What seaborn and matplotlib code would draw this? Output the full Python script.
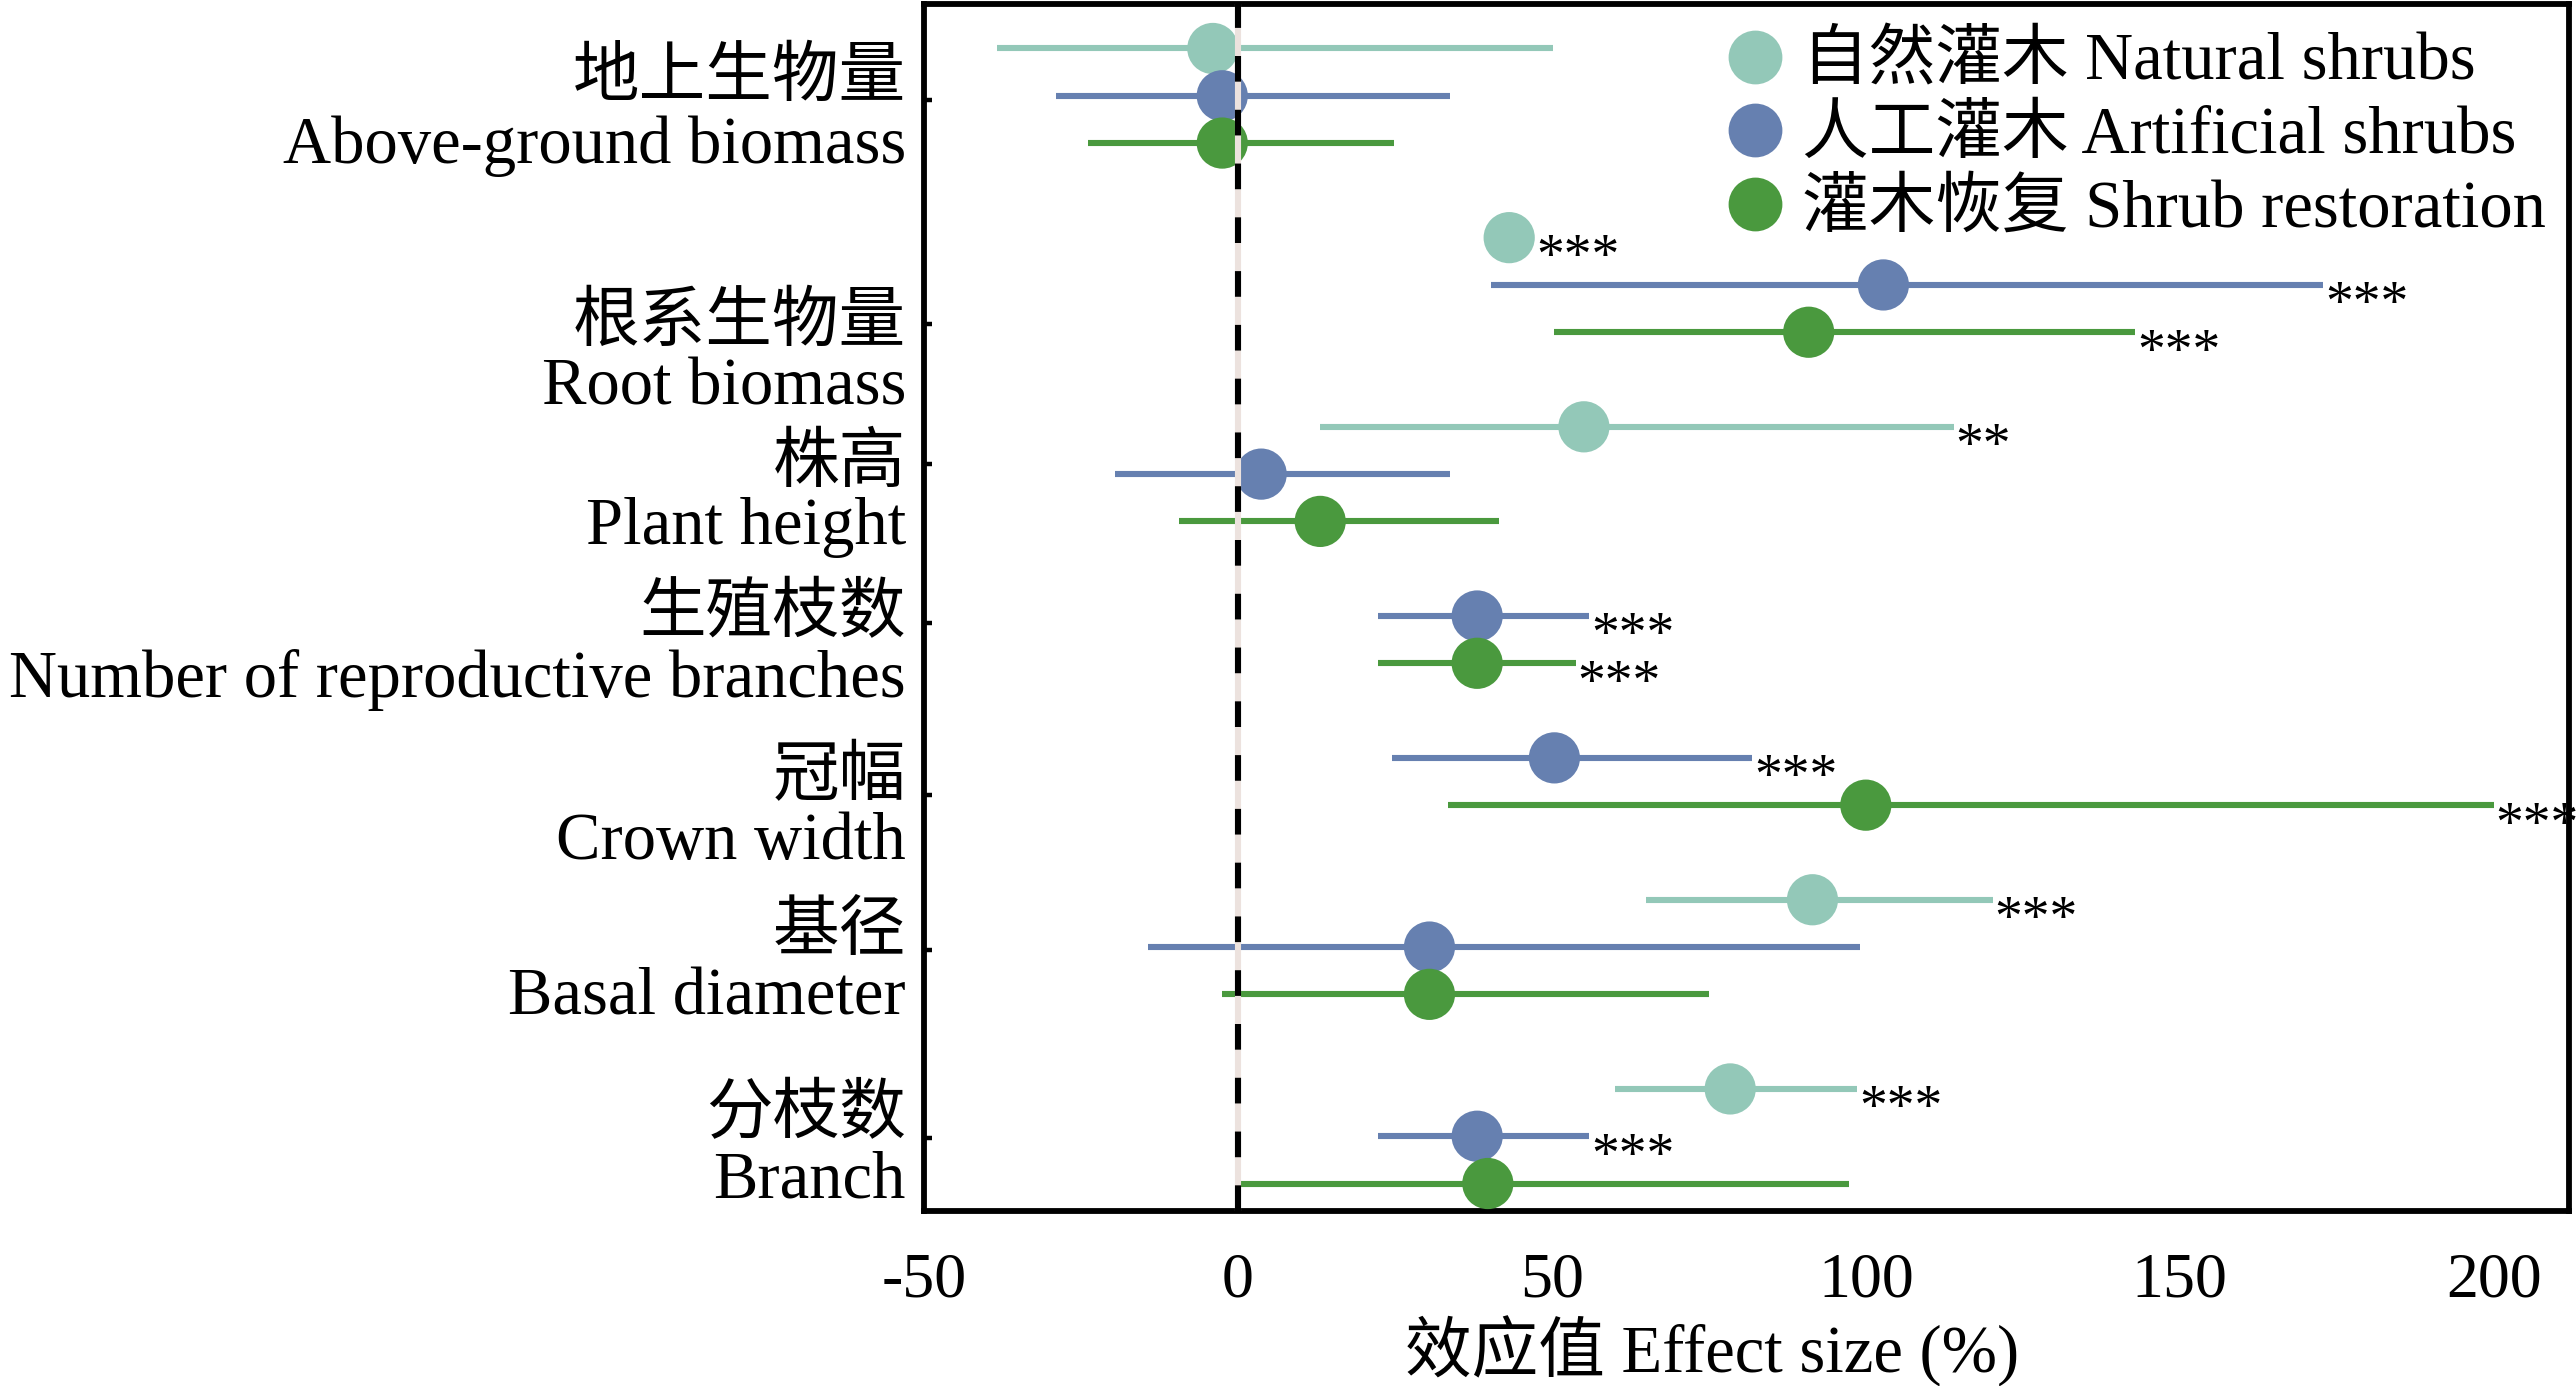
import numpy as np
import pandas as pd
import seaborn as sns
import matplotlib.pyplot as plt

# categories (Chinese / English)
categories_zh = ['地上生物量', '根系生物量', '株高', '生殖枝数', '冠幅', '基径', '分枝数']
categories_en = ['Above-ground biomass', 'Root biomass', 'Plant height',
                 'Number of reproductive branches', 'Crown width', 'Basal diameter', 'Branch']
groups = ['自然灌木 Natural shrubs', '人工灌木 Artificial shrubs', '灌木恢复 Shrub restoration']

nan = np.nan
# effect size (%) and 95% CI
natural_mean = [-4.0, 43.2, 55.1, nan, nan, 91.5, 78.4]
natural_lo = [-38.3, 39.5, 13.1, nan, nan, 65.0, 60.1]
natural_hi = [50.1, 47.0, 114.0, nan, nan, 120.2, 98.6]
natural_sig = ['', '***', '**', '', '', '***', '***']

artificial_mean = [-2.5, 102.8, 3.7, 38.1, 50.4, 30.5, 38.1]
artificial_lo = [-28.9, 40.3, -19.6, 22.3, 24.5, -14.4, 22.3]
artificial_hi = [33.8, 172.8, 33.8, 55.9, 81.9, 99.1, 55.9]
artificial_sig = ['', '***', '', '***', '***', '', '***']

restoration_mean = [-2.5, 90.9, 13.1, 38.1, 100.0, 30.5, 39.8]
restoration_lo = [-23.9, 50.4, -9.4, 22.3, 33.5, -2.6, -0.5]
restoration_hi = [24.9, 142.9, 41.5, 53.8, 200.0, 75.1, 97.3]
restoration_sig = ['', '***', '', '***', '***', '', '']

colors = ['#93c8b8', '#6680b0', '#4a993e']

# layout: first row of each category block, tick rows
cat_start = [0, 4, 8, 11, 14, 18, 22]
tick_rows = [1.09, 5.83, 8.79, 12.15, 15.79, 19.06, 23.04]
zh_rows = [1.01, 6.19, 9.17, 12.34, 15.79, 19.06, 22.93]
en_rows = [2.42, 7.52, 10.48, 13.71, 17.14, 20.42, 24.29]

rows = []
series = [(natural_mean, natural_lo, natural_hi, natural_sig),
          (artificial_mean, artificial_lo, artificial_hi, artificial_sig),
          (restoration_mean, restoration_lo, restoration_hi, restoration_sig)]
for gi, (m, lo, hi, sig) in enumerate(series):
    for ci in range(len(categories_en)):
        if np.isnan(m[ci]):
            continue
        rows.append({'group': groups[gi], 'cat': categories_en[ci], 'y': cat_start[ci] + gi,
                     'mean': m[ci], 'lo': lo[ci], 'hi': hi[ci], 'sig': sig[ci]})
df = pd.DataFrame(rows)

sns.set_style('white')
plt.rcParams['font.family'] = ['Liberation Serif', 'Noto Sans CJK SC']
plt.rcParams['axes.unicode_minus'] = False
plt.rcParams['text.color'] = 'black'
plt.rcParams['axes.labelcolor'] = 'black'

fig = plt.figure(figsize=(12.88, 6.93), dpi=200)
ax = fig.add_axes([0.3587, 0.1263, 0.9973 - 0.3587, 0.9971 - 0.1263])

pal = dict(zip(groups, colors))
for g in groups:
    d = df[df.group == g]
    ax.hlines(d['y'], d['lo'], d['hi'], color=pal[g], lw=2.2, zorder=2)

sns.scatterplot(data=df, x='mean', y='y', hue='group', hue_order=groups, palette=pal,
                s=340, edgecolor='none', linewidth=0, alpha=1, ax=ax, zorder=3)

for _, r in df.iterrows():
    if r['sig']:
        ax.text(max(r['hi'], r['mean'] + 4) + 0.3, r['y'] + 0.75, r['sig'], fontsize=20,
                ha='left', va='baseline', zorder=6)

ax.axvline(0, color='#ece2de', lw=2.2, zorder=4)
ax.axvline(0, color='black', lw=2.2, ls=(0, (4.2, 4.6)), zorder=5)

ax.set_xlim(-50, 212)
ax.set_ylim(24.58, -0.94)
ax.set_xticks([-50, 0, 50, 100, 150, 200])
ax.set_xticklabels(['-50', '0', '50', '100', '150', '200'], fontsize=23)
ax.set_yticks(tick_rows)
ax.set_yticklabels([])
ax.tick_params(axis='x', direction='in', length=4.5, width=1.6, pad=15, colors='black')
ax.tick_params(axis='y', direction='in', length=3, width=1.6, left=True, colors='black')
for s in ax.spines.values():
    s.set_color('black')
    s.set_linewidth(2.1)

for i in range(len(categories_zh)):
    ax.text(-0.011, zh_rows[i], categories_zh[i], transform=ax.get_yaxis_transform(),
            ha='right', va='baseline', fontsize=24)
    ax.text(-0.011, en_rows[i], categories_en[i], transform=ax.get_yaxis_transform(),
            ha='right', va='baseline', fontsize=24)

ax.set_xlabel('效应值 Effect size (%)', fontsize=24, labelpad=2)
ax.xaxis.label.set_x(0.479)
ax.set_ylabel('')

sns.move_legend(ax, 'upper right', bbox_to_anchor=(0.994, 0.988), frameon=False, title=None,
                fontsize=24, handletextpad=0.2, labelspacing=0.18, borderaxespad=0.1,
                borderpad=0.1, handlelength=1.0, markerscale=1.05)

fig.savefig('out.png', dpi=200)
